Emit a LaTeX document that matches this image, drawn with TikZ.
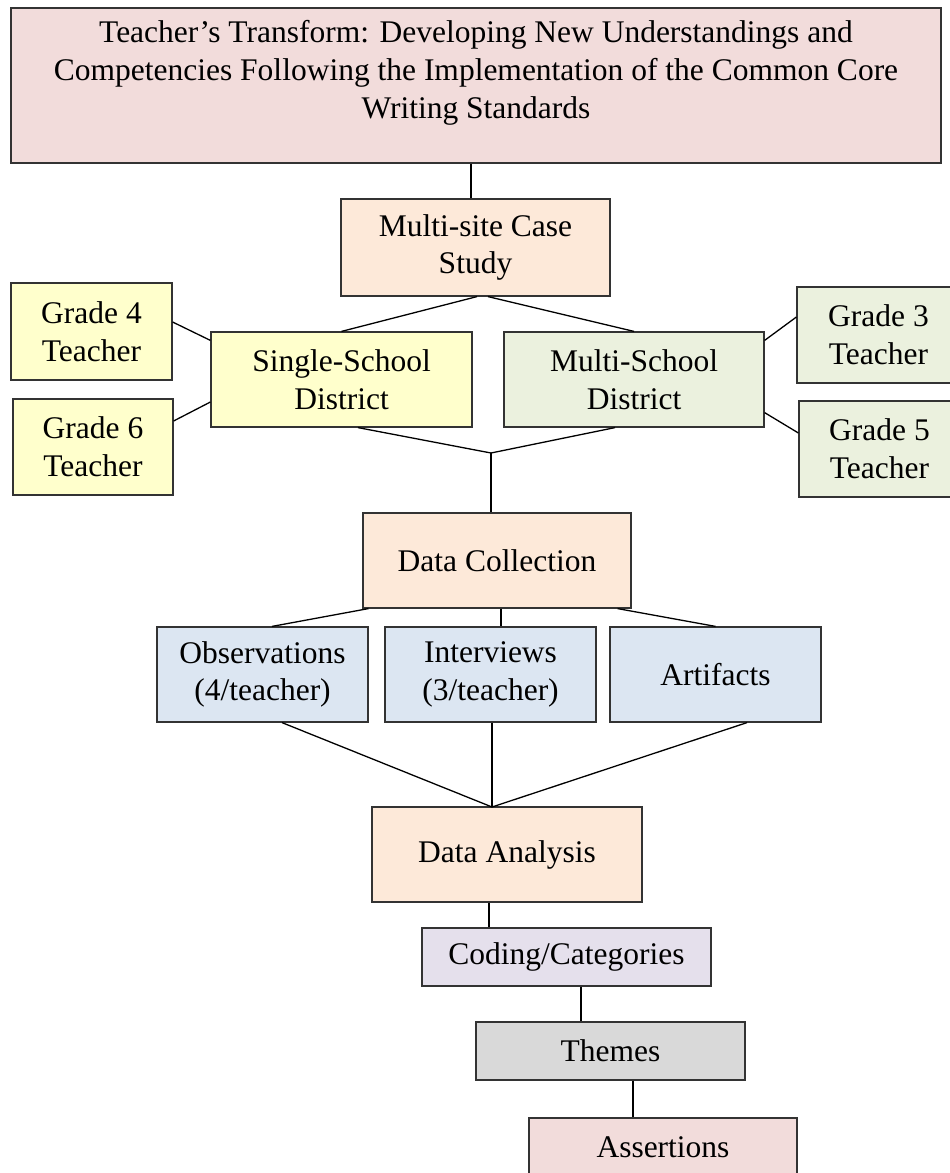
\documentclass[tikz,border=0pt]{standalone}
\usepackage{fontspec}
\setmainfont{Liberation Serif}
\usepackage{xcolor}

\definecolor{rosefill}{HTML}{F2DCDB}
\definecolor{peachfill}{HTML}{FDE9D9}
\definecolor{yellowfill}{HTML}{FFFFCC}
\definecolor{greenfill}{HTML}{EBF1DE}
\definecolor{bluefill}{HTML}{DCE6F2}
\definecolor{lilacfill}{HTML}{E5E0EC}
\definecolor{greyfill}{HTML}{D9D9D9}

\begin{document}
\begin{tikzpicture}[x=1pt, y=-1pt,
		box/.style={draw=black!80, line width=1.2pt, inner sep=0pt, align=center,
			font=\fontsize{31.5}{37.7}\selectfont},
		link/.style={line width=1.3pt}]
	\useasboundingbox (0,0) rectangle (950,1173);
	\clip (0,0) rectangle (950,1173);

	\node[box, fill=rosefill, minimum width=930pt, minimum height=155pt, text depth=32pt] (title) at (476,85.5)
		{Teacher’s Transform: Developing New Understandings and\\Competencies Following the Implementation of the Common Core\\Writing Standards};

	\node[box, fill=peachfill, minimum width=269pt, minimum height=97pt] (mcs) at (475.5,247.5) {Multi-site Case\\Study};

	\node[box, fill=yellowfill, minimum width=261pt, minimum height=95pt] (ssd) at (341.5,379.5) {Single-School\\District};
	\node[box, fill=greenfill, minimum width=260pt, minimum height=95pt] (msd) at (634,379.5) {Multi-School\\District};

	\node[box, fill=yellowfill, minimum width=161pt, minimum height=97pt] (g4) at (91.5,331.5) {Grade 4\\Teacher};
	\node[box, fill=yellowfill, minimum width=160pt, minimum height=96pt] (g6) at (93,447) {Grade 6\\Teacher};
	\node[box, fill=greenfill, minimum width=163pt, minimum height=96pt] (g3) at (878.5,335) {Grade 3\\Teacher};
	\node[box, fill=greenfill, minimum width=161pt, minimum height=96pt] (g5) at (879.5,449) {Grade 5\\Teacher};

	\node[box, fill=peachfill, minimum width=268pt, minimum height=95pt] (dc) at (497,560.5) {Data Collection};

	\node[box, fill=bluefill, minimum width=211pt, minimum height=95pt] (obs) at (262.5,674.5) {Observations\\(4/teacher)};
	\node[box, fill=bluefill, minimum width=211pt, minimum height=95pt] (int) at (490.5,674.5) {Interviews\\(3/teacher)};
	\node[box, fill=bluefill, minimum width=211pt, minimum height=95pt] (art) at (715.5,674.5) {Artifacts};

	\node[box, fill=peachfill, minimum width=270pt, minimum height=95pt] (da) at (507,854.5) {Data Analysis};
	\node[box, fill=lilacfill, minimum width=289pt, minimum height=58pt] (cc) at (566.5,957) {Coding/Categories};
	\node[box, fill=greyfill, minimum width=269pt, minimum height=58pt] (th) at (610.5,1051) {Themes};
	\node[box, fill=rosefill, minimum width=268pt, minimum height=58pt] (as) at (663,1147) {Assertions};

	\coordinate (jn1) at (491,453);
	\coordinate (jn2) at (492,807);

	% study and districts
	\draw[link] ([xshift=-4.5pt]mcs.north |- title.south) -- ([xshift=-4.5pt]mcs.north);
	\draw[link] ([xshift=1.5pt]mcs.south) -- (ssd.north);
	\draw[link] ([xshift=12.5pt]mcs.south) -- (msd.north);
	\draw[link] ([yshift=9.5pt]g4.east) -- ([yshift=-9pt]ssd.north west);
	\draw[link] ([yshift=26pt]g6.east) -- ([yshift=-22.5pt]ssd.west);
	\draw[link] ([yshift=18pt]g3.west) -- ([yshift=-9pt]msd.north east);
	\draw[link] ([yshift=16pt]g5.west) -- ([yshift=15pt]msd.south east);
	\draw[link] ([xshift=16.5pt]ssd.south) -- (jn1) -- ([xshift=-19pt]msd.south);
	\draw[link] (jn1) -- (jn1 |- dc.north);

	% data
	\draw[link] ([xshift=6pt]dc.south west) -- ([xshift=9.5pt]obs.north);
	\draw[link] ([xshift=4pt]dc.south) -- ([xshift=4pt]dc.south |- int.north);
	\draw[link] ([xshift=-14pt]dc.south east) -- (art.north);
	\draw[link] ([xshift=19.5pt]obs.south) -- (jn2);
	\draw[link] (jn2 |- int.south) -- (jn2);
	\draw[link] ([xshift=31.5pt]art.south) -- (jn2);

	\draw[link] ([xshift=-18pt]da.south) -- ([xshift=-18pt]da.south |- cc.north);
	\draw[link] ([xshift=14.5pt]cc.south) -- ([xshift=14.5pt]cc.south |- th.north);
	\draw[link] ([xshift=22.5pt]th.south) -- ([xshift=22.5pt]th.south |- as.north);
\end{tikzpicture}
\end{document}
